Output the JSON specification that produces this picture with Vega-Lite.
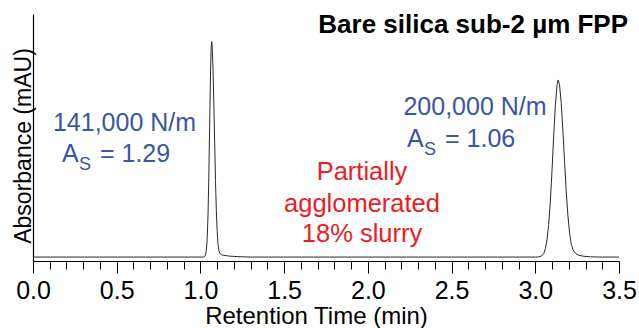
{
  "$schema": "https://vega.github.io/schema/vega-lite/v6.json",
  "width": 586,
  "height": 247,
  "autosize": "none",
  "padding": {"left": 33, "top": 14, "right": 20, "bottom": 67},
  "background": "white",
  "config": {
    "view": {"stroke": null},
    "font": "Liberation Sans",
    "text": {"font": "Liberation Sans"}
  },
  "datasets": {
    "trace": [
      {"t": 0, "a": 1.6}, {"t": 1.02, "a": 1.6}, {"t": 1.025, "a": 1.8}, {"t": 1.03, "a": 2.4},
      {"t": 1.035, "a": 4.1}, {"t": 1.04, "a": 8.6}, {"t": 1.045, "a": 17.8}, {"t": 1.05, "a": 33.6},
      {"t": 1.055, "a": 54.5}, {"t": 1.06, "a": 75.2}, {"t": 1.064, "a": 86.1}, {"t": 1.067, "a": 88.8},
      {"t": 1.07, "a": 87.3}, {"t": 1.075, "a": 78.5}, {"t": 1.08, "a": 64.3}, {"t": 1.085, "a": 47.9},
      {"t": 1.09, "a": 32.6}, {"t": 1.095, "a": 20.4}, {"t": 1.1, "a": 12.0}, {"t": 1.105, "a": 6.8},
      {"t": 1.11, "a": 4.3}, {"t": 1.115, "a": 3.3}, {"t": 1.12, "a": 2.8}, {"t": 1.13, "a": 2.4},
      {"t": 1.14, "a": 2.3}, {"t": 1.17, "a": 2.0}, {"t": 1.2, "a": 1.85}, {"t": 1.25, "a": 1.7},
      {"t": 1.3, "a": 1.6}, {"t": 3.0, "a": 1.6}, {"t": 3.02, "a": 1.66}, {"t": 3.04, "a": 2.1},
      {"t": 3.05, "a": 3.0}, {"t": 3.06, "a": 4.9}, {"t": 3.07, "a": 8.5}, {"t": 3.08, "a": 14.8},
      {"t": 3.09, "a": 24.3}, {"t": 3.1, "a": 36.7}, {"t": 3.11, "a": 50.6}, {"t": 3.12, "a": 63.2},
      {"t": 3.13, "a": 71.4}, {"t": 3.137, "a": 73.3}, {"t": 3.145, "a": 71.3}, {"t": 3.155, "a": 63.8},
      {"t": 3.165, "a": 52.7}, {"t": 3.175, "a": 40.0}, {"t": 3.185, "a": 28.0}, {"t": 3.195, "a": 18.3},
      {"t": 3.205, "a": 11.3}, {"t": 3.215, "a": 6.8}, {"t": 3.225, "a": 4.6}, {"t": 3.24, "a": 3.1},
      {"t": 3.26, "a": 2.3}, {"t": 3.29, "a": 1.9}, {"t": 3.33, "a": 1.7}, {"t": 3.38, "a": 1.6},
      {"t": 3.5, "a": 1.6}
    ],
    "labels": [
      {"role": "title", "t": 3.554, "a": 92.3, "text": "Bare silica sub-2 µm FPP"},
      {"role": "blue", "t": 0.5465, "a": 52.6, "text": "141,000 N/m"},
      {"role": "blue", "t": 2.64, "a": 59.1, "text": "200,000 N/m"},
      {"role": "asym", "t": 0.173, "a": 40.1, "text": "= 1.29"},
      {"role": "asym", "t": 2.234, "a": 46.2, "text": "= 1.06"},
      {"role": "red", "t": 1.965, "a": 32.8, "text": "Partially"},
      {"role": "red", "t": 1.965, "a": 19.8, "text": "agglomerated"},
      {"role": "red", "t": 1.965, "a": 7.7, "text": "18% slurry"}
    ]
  },
  "layer": [
    {
      "data": {"name": "trace"},
      "mark": {"type": "line", "stroke": "#2a2a2a", "strokeWidth": 1, "clip": false},
      "encoding": {
        "x": {
          "field": "t", "type": "quantitative",
          "scale": {"domain": [0, 3.5], "nice": false, "zero": false},
          "axis": {
            "title": "Retention Time (min)",
            "values": [0, 0.1, 0.2, 0.3, 0.4, 0.5, 0.6, 0.7, 0.8, 0.9, 1.0, 1.1, 1.2, 1.3, 1.4, 1.5, 1.6, 1.7, 1.8, 1.9, 2.0, 2.1, 2.2, 2.3, 2.4, 2.5, 2.6, 2.7, 2.8, 2.9, 3.0, 3.1, 3.2, 3.3, 3.4, 3.5],
            "tickCount": 100,
            "labelExpr": "abs(datum.value*2 - round(datum.value*2)) < 0.001 ? format(datum.value, '.1f') : ''",
            "labelFlush": false,
            "labelOverlap": false,
            "labelFont": "Liberation Sans",
            "labelFontSize": 25,
            "labelColor": "#000000",
            "labelPadding": 5,
            "tickColor": "#000000",
            "tickWidth": 1,
            "tickSize": {"condition": {"test": "abs(datum.value*2 - round(datum.value*2)) < 0.001", "value": 12}, "value": 8},
            "domainColor": "#000000",
            "domainWidth": 1.2,
            "grid": false,
            "titleFont": "Liberation Sans",
            "titleFontSize": 24,
            "titleFontWeight": "normal",
            "titleColor": "#000000",
            "titleX": 283,
            "titleY": 62,
            "titleAlign": "center",
            "titleBaseline": "alphabetic"
          }
        },
        "y": {
          "field": "a", "type": "quantitative",
          "scale": {"domain": [0, 100], "nice": false, "zero": false},
          "axis": {
            "title": "Absorbance (mAU)",
            "ticks": false,
            "labels": false,
            "grid": false,
            "domainColor": "#000000",
            "domainWidth": 1.2,
            "titleFont": "Liberation Sans",
            "titleFontSize": 23,
            "titleFontWeight": "normal",
            "titleColor": "#000000",
            "titleAngle": -90,
            "titleX": -2.5,
            "titleY": 131.5,
            "titleAlign": "center",
            "titleBaseline": "alphabetic"
          }
        }
      }
    },
    {
      "data": {"name": "labels"},
      "transform": [{"filter": "datum.role === 'title'"}],
      "mark": {"type": "text", "align": "right", "baseline": "alphabetic", "fontSize": 26, "fontWeight": "bold", "color": "#000000", "clip": false},
      "encoding": {
        "x": {"field": "t", "type": "quantitative"},
        "y": {"field": "a", "type": "quantitative"},
        "text": {"field": "text"}
      }
    },
    {
      "data": {"name": "labels"},
      "transform": [{"filter": "datum.role === 'blue'"}],
      "mark": {"type": "text", "align": "center", "baseline": "alphabetic", "fontSize": 25, "color": "#3b54a3"},
      "encoding": {
        "x": {"field": "t", "type": "quantitative"},
        "y": {"field": "a", "type": "quantitative"},
        "text": {"field": "text"}
      }
    },
    {
      "data": {"name": "labels"},
      "transform": [{"filter": "datum.role === 'asym'"}],
      "mark": {"type": "text", "align": "left", "baseline": "alphabetic", "fontSize": 25, "color": "#3b54a3", "text": "A"},
      "encoding": {
        "x": {"field": "t", "type": "quantitative"},
        "y": {"field": "a", "type": "quantitative"}
      }
    },
    {
      "data": {"name": "labels"},
      "transform": [{"filter": "datum.role === 'asym'"}],
      "mark": {"type": "text", "align": "left", "baseline": "alphabetic", "fontSize": 18, "color": "#3b54a3", "text": "S", "dx": 17, "dy": 8},
      "encoding": {
        "x": {"field": "t", "type": "quantitative"},
        "y": {"field": "a", "type": "quantitative"}
      }
    },
    {
      "data": {"name": "labels"},
      "transform": [{"filter": "datum.role === 'asym'"}],
      "mark": {"type": "text", "align": "left", "baseline": "alphabetic", "fontSize": 25, "color": "#3b54a3", "dx": 38},
      "encoding": {
        "x": {"field": "t", "type": "quantitative"},
        "y": {"field": "a", "type": "quantitative"},
        "text": {"field": "text"}
      }
    },
    {
      "data": {"name": "labels"},
      "transform": [{"filter": "datum.role === 'red'"}],
      "mark": {"type": "text", "align": "center", "baseline": "alphabetic", "fontSize": 25.5, "color": "#ed1c24"},
      "encoding": {
        "x": {"field": "t", "type": "quantitative"},
        "y": {"field": "a", "type": "quantitative"},
        "text": {"field": "text"}
      }
    }
  ]
}
